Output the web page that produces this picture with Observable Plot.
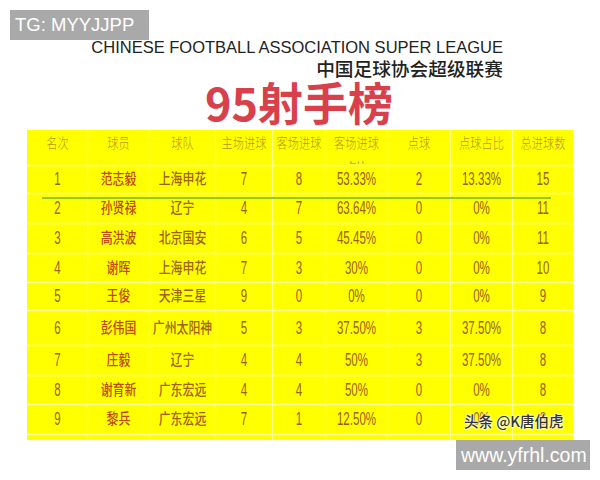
<!DOCTYPE html>
<html lang="zh">
<head>
<meta charset="utf-8">
<script src="https://cdn.jsdelivr.net/npm/d3@7"></script>
<script src="https://cdn.jsdelivr.net/npm/@observablehq/plot@0.6"></script>
<style>
  html, body { margin: 0; padding: 0; background: #fff; }
  #page { position: relative; width: 600px; height: 480px; overflow: hidden; }
  #head { position: relative; height: 130px; }
  #head div, .tag { position: absolute; white-space: nowrap; }
  #en { right: 97px; top: 37px; font: 16.5px/20px "Liberation Sans", sans-serif; color: #222; }
  #zh { right: 97px; top: 57px; font: 500 18.7px/22px "Noto Sans CJK SC", sans-serif; color: #222; }
  #title { left: 205px; top: 73px; font: 700 45px/58px "Noto Sans CJK SC", sans-serif; color: #d8414b; }
  .tag { background: #a9a9a9; color: #fff; font-family: "Liberation Sans", sans-serif; height: 30px; line-height: 30px; box-sizing: border-box; }
  #tg { left: 10px; top: 10px; width: 139px; padding-left: 5px; font-size: 18.5px; }
  #site { left: 456px; top: 440px; width: 134px; padding-left: 5px; font-size: 19.5px; }
  #mark { position: absolute; left: 464px; top: 411px; font: 500 14.5px/20px "Noto Sans CJK SC", sans-serif; color: #333;
          text-shadow: 0 0 2px #fff, 0 0 2px #fff, 0 0 3px #fff; white-space: nowrap; }
  svg { display: block; }
</style>
</head>
<body>
<div id="page">
  <div id="head">
    <div id="en">CHINESE FOOTBALL ASSOCIATION SUPER LEAGUE</div>
    <div id="zh">中国足球协会超级联赛</div>
    <div id="title">95射手榜</div>
  </div>
  <div id="chart"></div>
  <div class="tag" id="tg">TG: MYYJJPP</div>
  <div class="tag" id="site">www.yfrhl.com</div>
  <div id="mark">头条 @K唐伯虎</div>
</div>
<script>
const headers   = ["名次","球员","球队","主场进球","客场进球","客场进球","点球","点球占比","总进球数"];
const ranks     = ["1","2","3","4","5","6","7","8","9"];
const players   = ["范志毅","孙贤禄","高洪波","谢晖","王俊","彭伟国","庄毅","谢育新","黎兵"];
const teams     = ["上海申花","辽宁","北京国安","上海申花","天津三星","广州太阳神","辽宁","广东宏远","广东宏远"];
const homeGoals = ["7","4","6","7","9","5","4","4","7"];
const awayGoals = ["8","7","5","3","0","3","4","4","1"];
const awayShare = ["53.33%","63.64%","45.45%","30%","0%","37.50%","50%","50%","12.50%"];
const penalties = ["2","0","0","0","0","3","3","0","0"];
const penShare  = ["13.33%","0%","0%","0%","0%","37.50%","37.50%","0%","0%"];
const totals    = ["15","11","11","10","9","8","8","8","8"];

const columns = [ranks, players, teams, homeGoals, awayGoals, awayShare, penalties, penShare, totals];
const cells = columns.flatMap((col, c) => col.map((text, r) => ({text, c, r: r + 1})));
const headerCells = headers.map((text, c) => ({text, c}));
const colEdges = d3.range(10);
const rowEdges = d3.range(11);
const numeric = cells.filter(d => d.c !== 1 && d.c !== 2);

const chart = Plot.plot({
  width: 600, height: 350,
  margin: 0,
  x: {type: "linear", domain: colEdges, range: [27,87,149,215,272,325,387,450,512,573], axis: null},
  y: {type: "linear", domain: [...rowEdges, 10.2], range: [0,35,63,93,123,152,180,215,245,274,304,310], axis: null},
  marks: [
    Plot.rect([0], {x1: () => 0, x2: () => 9, y1: () => 0, y2: () => 1, fill: "#ffff00"}),
    Plot.text(headerCells, {x: d => d.c + 0.5, y: () => 0.5, dy: -4, text: "text", className: "hdr",
      fontFamily: "Noto Sans CJK SC", fontSize: 14, fontWeight: 300, fill: "#b8981c"}),
    Plot.text(["占比"], {x: () => 5.5, y: () => 1, dy: 2, text: d => d,
      fontFamily: "Noto Sans CJK SC", fontSize: 11, fill: "#b8981c"}),
    Plot.rect([0], {x1: () => 0, x2: () => 9, y1: () => 0.97, y2: () => 10.2, fill: "#ffff00"}),
    Plot.ruleX(colEdges.slice(1, 9), {x: d => d, y1: () => 0, y2: () => 10.2, stroke: "#ffff8c", strokeWidth: 1.2}),
    Plot.ruleY(rowEdges.slice(1), {y: d => d, x1: () => 0, x2: () => 9, stroke: "#ffff99", strokeWidth: 1.6}),
    Plot.text(numeric, {x: d => d.c + 0.5, y: d => d.r + 0.5, text: "text", className: "num",
      fontFamily: "Liberation Sans", fontSize: 17.5, fill: "#9c6010"}),
    Plot.text(cells.filter(d => d.c === 1), {x: d => d.c + 0.5, y: d => d.r + 0.5, text: "text", className: "cjk",
      fontFamily: "Noto Sans CJK SC", fontSize: 14.5, fontWeight: 500, fill: "#bc4a10"}),
    Plot.text(cells.filter(d => d.c === 2), {x: d => d.c + 0.5, y: d => d.r + 0.5, text: "text", className: "cjk",
      fontFamily: "Noto Sans CJK SC", fontSize: 14.5, fontWeight: 500, fill: "#a0620f"}),
    Plot.ruleY([2.15], {y: d => d, x1: () => 0.25, x2: () => 8.64, stroke: "#6fb51f", strokeWidth: 1.6})
  ]
});
chart.style.background = "transparent";
document.getElementById("chart").appendChild(chart);

// The reference's glyphs are condensed: narrow each text without changing its height.
const condense = (selector, factor) => {
  chart.querySelectorAll(selector + " text").forEach(t => {
    t.setAttribute("textLength", (t.getComputedTextLength() * factor).toFixed(1));
    t.setAttribute("lengthAdjust", "spacingAndGlyphs");
  });
};
condense(".hdr", 0.8);
condense(".num", 0.66);
condense(".cjk", 0.82);
</script>
</body>
</html>
